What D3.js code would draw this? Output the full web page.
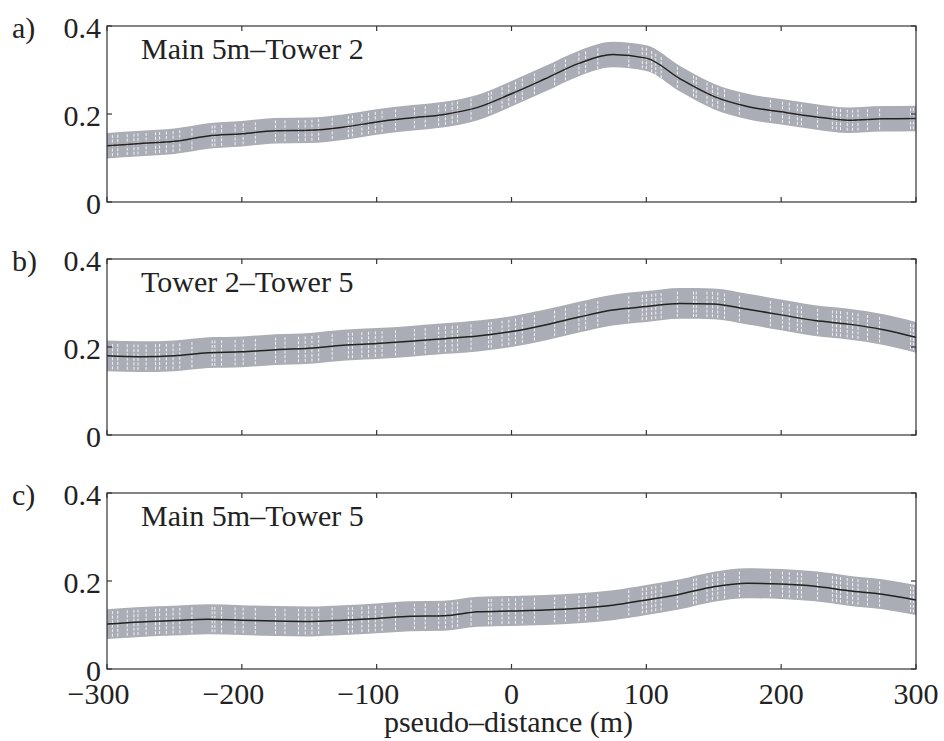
<!DOCTYPE html>
<html>
<head>
<meta charset="utf-8">
<script src="https://cdn.jsdelivr.net/npm/d3@7"></script>
<style>
  body { margin: 0; background: #fff; }
  text { font-family: "Liberation Serif", "DejaVu Serif", serif; fill: #222; }
</style>
</head>
<body>
<div id="chart-area"></div>
<script>
// values (pseudo-distance in m, every 25 m)
var distance = [-300,-275,-250,-225,-200,-175,-150,-125,-100,-75,-50,-25,0,25,50,75,100,125,150,175,200,225,250,275,300];
var mainTower2 = [0.128,0.133,0.138,0.150,0.155,0.162,0.163,0.170,0.182,0.191,0.199,0.215,0.246,0.280,0.315,0.335,0.327,0.280,0.240,0.217,0.205,0.194,0.186,0.189,0.190];
var tower2Tower5 = [0.180,0.178,0.180,0.187,0.189,0.194,0.197,0.204,0.208,0.213,0.219,0.225,0.235,0.250,0.268,0.284,0.292,0.299,0.298,0.286,0.273,0.260,0.252,0.240,0.222];
var mainTower5 = [0.102,0.107,0.110,0.113,0.111,0.109,0.108,0.111,0.115,0.120,0.121,0.130,0.132,0.134,0.138,0.145,0.157,0.170,0.187,0.195,0.193,0.188,0.178,0.170,0.157];
var bandHalf = [0.029, 0.035, 0.034];   // half width of the grey error band

// positions of the errorbar samples (white dotted lines in the band)
var sampleX = [-296,-292,-285,-280,-277,-271,-264,-261,-256,-251,-246,-237,-222,-220,-215,-205,-199,-190,-175,
  -168,-158,-153,-148,-143,-133,-121,-118,-111,-106,-101,-96,-86,-72,-64,-54,-49,-44,-40,-30,-17,-15,-7,-2,3,8,17,
  32,40,50,55,64,87,97,100,104,107,111,123,135,137,145,149,153,158,169,192,201,206,212,215,227,238,241,244,249,253,257,264,273,296,298];

var panelLetters = ["a)", "b)", "c)"];
var panelTitles = ["Main 5m\u2013Tower 2", "Tower 2\u2013Tower 5", "Main 5m\u2013Tower 5"];
var panelSeries = [mainTower2, tower2Tower5, mainTower5];
var xTicks = [-300, -200, -100, 0, 100, 200, 300];
var yTicks = [0, 0.2, 0.4];

var width = 944, height = 741;
var left = 107, right = 916, panelH = 176;
var panelTops = [26, 259, 493];
var tickLen = 5;

var svg = d3.select("#chart-area").append("svg").attr("width", width).attr("height", height);

var x = d3.scaleLinear().domain([-300, 300]).range([left, right]);

function fmt(v) { return v === 0 ? "0" : String(v); }

panelSeries.forEach(function(series, p) {
  var top = panelTops[p];
  var y = d3.scaleLinear().domain([0, 0.4]).range([top + panelH, top]);
  var g = svg.append("g");
  var data = distance.map(function(d, i) { return { x: d, v: series[i] }; });
  var hw = bandHalf[p];

  // grey band
  var area = d3.area()
    .x(function(d) { return x(d.x); })
    .y0(function(d) { return y(d.v - hw); })
    .y1(function(d) { return y(d.v + hw); })
    .curve(d3.curveMonotoneX);
  g.append("path").datum(data).attr("d", area).attr("fill", "#abadb6");

  // white dotted errorbar traces
  var interp = d3.scaleLinear().domain(distance).range(series);
  g.selectAll(".eb").data(sampleX).enter().append("line")
    .attr("x1", function(d) { return x(d); })
    .attr("x2", function(d) { return x(d); })
    .attr("y1", function(d) { return y(interp(d) - hw) - 2; })
    .attr("y2", function(d) { return y(interp(d) + hw) + 2; })
    .attr("stroke", "#fff")
    .attr("stroke-width", 1)
    .attr("stroke-dasharray", "3,1.5")
    .attr("opacity", 0.85);

  // mean line
  var line = d3.line()
    .x(function(d) { return x(d.x); })
    .y(function(d) { return y(d.v); })
    .curve(d3.curveMonotoneX);
  g.append("path").datum(data).attr("d", line)
    .attr("fill", "none").attr("stroke", "#222").attr("stroke-width", 1.5);

  // frame
  g.append("rect").attr("x", left).attr("y", top).attr("width", right - left).attr("height", panelH)
    .attr("fill", "none").attr("stroke", "#333").attr("stroke-width", 1.2);

  // inward ticks, all four sides
  xTicks.forEach(function(t) {
    g.append("line").attr("x1", x(t)).attr("x2", x(t)).attr("y1", top).attr("y2", top + tickLen)
      .attr("stroke", "#333").attr("stroke-width", 1.2);
    g.append("line").attr("x1", x(t)).attr("x2", x(t)).attr("y1", top + panelH).attr("y2", top + panelH - tickLen)
      .attr("stroke", "#333").attr("stroke-width", 1.2);
  });
  yTicks.forEach(function(t) {
    g.append("line").attr("x1", left).attr("x2", left + tickLen).attr("y1", y(t)).attr("y2", y(t))
      .attr("stroke", "#333").attr("stroke-width", 1.2);
    g.append("line").attr("x1", right).attr("x2", right - tickLen).attr("y1", y(t)).attr("y2", y(t))
      .attr("stroke", "#333").attr("stroke-width", 1.2);
    g.append("text").attr("x", 101).attr("y", y(t) + 12)
      .attr("text-anchor", "end").attr("font-size", "30px")
      .text(fmt(t));
  });

  g.append("text").attr("x", 12).attr("y", top + 12).attr("font-size", "30px").text(panelLetters[p]);
  g.append("text").attr("x", 141).attr("y", top + 33).attr("font-size", "30px").text(panelTitles[p]);
});

// x tick labels below the last panel: digits centred on the tick, minus hangs left
var base = panelTops[2] + panelH + 35;
xTicks.forEach(function(t) {
  var digits = String(Math.abs(t));
  var tmp = svg.append("text").attr("font-size", "30px").text(digits);
  var w = tmp.node().getComputedTextLength();
  tmp.remove();
  svg.append("text").attr("x", x(t) + w / 2).attr("y", base)
    .attr("text-anchor", "end").attr("font-size", "30px")
    .text((t < 0 ? "\u2212" : "") + digits);
});

svg.append("text").attr("x", (left + right) / 2 - 3).attr("y", 732)
  .attr("text-anchor", "middle").attr("font-size", "30px")
  .text("pseudo\u2013distance (m)");
</script>
</body>
</html>
